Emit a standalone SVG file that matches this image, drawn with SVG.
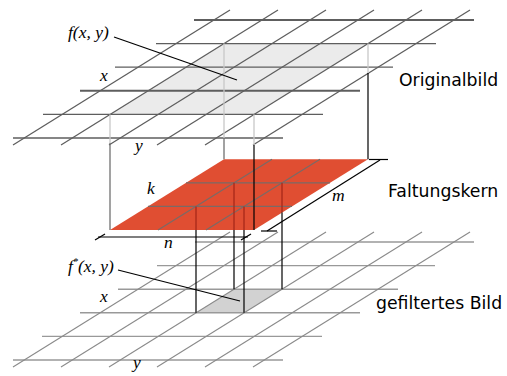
<svg xmlns="http://www.w3.org/2000/svg" width="507" height="376" viewBox="0 0 507 376">
<style>
.tg{stroke:#5e5e5e;stroke-width:1.3;fill:none}
.tgb{stroke:#5e5e5e;stroke-width:2;fill:none}
.bg{stroke:#8a8a8a;stroke-width:1.1;fill:none}
.bgh{stroke:#999;stroke-width:1.4;fill:none}
.lt{stroke:#c8c8c8;stroke-width:1.3;fill:none}
.md{stroke:#707070;stroke-width:1.3;fill:none}
.bk{stroke:#000;stroke-width:1.2;fill:none}
.rd{stroke:#a8281a;stroke-width:1.3;fill:none}
.kg{stroke:#7a6a66;stroke-width:1.2;fill:none}
.it{font-family:"Liberation Serif","Times New Roman",serif;font-style:italic;font-size:17.5px;fill:#000}
.sa{font-family:"DejaVu Sans",sans-serif;font-size:17.3px;fill:#000}
</style>

<g id="originalbild">
  <polygon points="224,43.6 368,43.6 254,114.4 110,114.4" fill="#ebebeb"/>
  <g class="tg">
    <line x1="156" y1="43.6" x2="436" y2="43.6"/>
    <line x1="115" y1="67.2" x2="393" y2="67.2"/>
    <line x1="43" y1="114.4" x2="323" y2="114.4"/>
    <line x1="13" y1="138" x2="283" y2="138"/>
    <line x1="13" y1="145" x2="230" y2="10"/>
    <line x1="61" y1="145" x2="278" y2="10"/>
    <line x1="109" y1="145" x2="326" y2="10"/>
    <line x1="157" y1="145" x2="374" y2="10"/>
    <line x1="205" y1="145" x2="422" y2="10"/>
    <line x1="253" y1="145" x2="470" y2="10"/>
  </g>
  <line class="tgb" x1="194" y1="20" x2="474" y2="20"/>
  <line class="tgb" x1="80" y1="90.8" x2="360" y2="90.8"/>
  <text class="sa" x="399" y="86">Originalbild</text>
  <text class="it" x="68" y="38">f(x, y)</text>
  <text class="it" x="100" y="81">x</text>
  <text class="it" x="135" y="151">y</text>
</g>

<g id="gefiltertes-bild">
  <polygon points="196,312.8 244,312.8 282,289.2 234,289.2" fill="#d2d2d2"/>
  <g class="bgh">
    <line x1="195" y1="242" x2="474" y2="242"/>
    <line x1="157" y1="265.6" x2="435" y2="265.6"/>
    <line x1="118" y1="289.2" x2="398" y2="289.2"/>
    <line x1="80" y1="312.8" x2="360" y2="312.8"/>
    <line x1="42" y1="336.4" x2="322" y2="336.4"/>
    <line x1="13" y1="360" x2="283" y2="360"/>
  </g>
  <g class="bg">
    <line x1="13" y1="367" x2="230" y2="232"/>
    <line x1="61" y1="367" x2="278" y2="232"/>
    <line x1="109" y1="367" x2="326" y2="232"/>
    <line x1="157" y1="367" x2="374" y2="232"/>
    <line x1="205" y1="367" x2="422" y2="232"/>
    <line x1="253" y1="367" x2="470" y2="232"/>
  </g>
  <text class="sa" x="376" y="309">gefiltertes Bild</text>
  <text class="it" x="68" y="272">f<tspan font-size="10" dy="-7">*</tspan><tspan dy="7">(x, y)</tspan></text>
  <text class="it" x="100" y="302">x</text>
  <text class="it" x="133" y="368">y</text>
</g>

<g id="faltungskern">
  <polygon points="224,159.2 368,159.2 254,230 110,230" fill="#e04e32"/>
  <g class="kg">
    <line x1="186" y1="182.8" x2="330" y2="182.8"/>
    <line x1="148" y1="206.4" x2="292" y2="206.4"/>
    <line x1="158" y1="230" x2="272" y2="159.2"/>
    <line x1="206" y1="230" x2="320" y2="159.2"/>
  </g>
  <g class="rd">
    <line x1="234" y1="182.8" x2="234" y2="230"/>
    <line x1="282" y1="182.8" x2="282" y2="212.5"/>
    <line x1="196" y1="206.4" x2="196" y2="230"/>
    <line x1="244" y1="206.4" x2="244" y2="230"/>
  </g>
  <text class="sa" x="388" y="197">Faltungskern</text>
  <text class="it" x="147" y="194">k</text>
  <text class="it" x="164" y="248">n</text>
  <text class="it" x="332" y="201">m</text>
</g>

<g id="connectors">
  <line class="lt" x1="224" y1="43.6" x2="224" y2="138"/>
  <line class="md" x1="224" y1="138" x2="224" y2="159.2"/>
  <line class="lt" x1="110" y1="114.4" x2="110" y2="143"/>
  <line class="md" x1="110" y1="143" x2="110" y2="230"/>
  <line class="lt" x1="368" y1="43.6" x2="368" y2="73"/>
  <line class="bk" x1="368" y1="73" x2="368" y2="159.2"/>
  <line class="lt" x1="254" y1="114.4" x2="254" y2="145"/>
  <line class="bk" x1="254" y1="145" x2="254" y2="230"/>
  <line class="bk" x1="196" y1="230" x2="196" y2="312.8"/>
  <line class="bk" x1="244" y1="230" x2="244" y2="312.8"/>
  <line class="bk" x1="234" y1="230" x2="234" y2="289.2"/>
  <line class="bk" x1="282" y1="212.5" x2="282" y2="289.2"/>
  <line class="bk" x1="114" y1="37" x2="237" y2="80"/>
  <line class="bk" x1="118" y1="270" x2="240" y2="301"/>
  <line class="bk" x1="98" y1="237" x2="248" y2="237"/>
  <line class="bk" x1="95" y1="240" x2="105" y2="234"/>
  <line class="bk" x1="241" y1="240" x2="251" y2="234"/>
  <line class="bk" x1="267" y1="231" x2="380" y2="160"/>
  <line class="bk" x1="261" y1="231" x2="277" y2="231"/>
  <line class="bk" x1="369" y1="159.5" x2="388" y2="159.5"/>
</g>
</svg>
